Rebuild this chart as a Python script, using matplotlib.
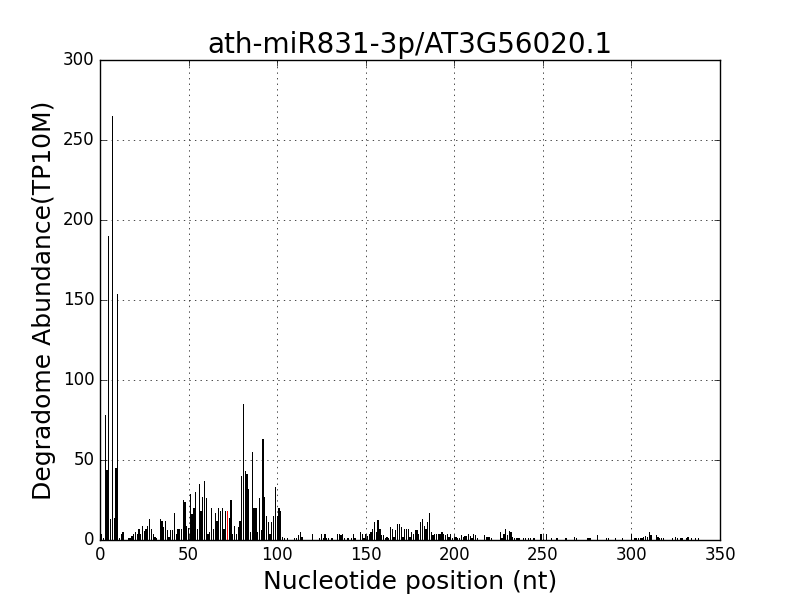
import numpy as np
import matplotlib
matplotlib.use('Agg')
import matplotlib.pyplot as plt

# degradome reads per position (TP10M)
positions = [1, 2, 3, 4, 5, 6, 7, 8, 9, 10, 11, 12, 13, 16, 17, 18, 19, 20,
             21, 22, 23, 24, 25, 26, 27, 28, 29, 30, 31, 32, 34, 35, 36, 37, 38, 39, 40,
             41, 42, 43, 44, 45, 46, 47, 48, 49, 50, 51, 52, 53, 54, 55, 56, 57, 58, 59, 60,
             61, 62, 63, 64, 65, 66, 67, 68, 69, 70, 71, 72, 73, 74, 75, 76, 77, 78, 79, 80,
             81, 82, 83, 84, 85, 86, 87, 88, 89, 90, 91, 92, 93, 94, 95, 96, 97, 98, 99, 100,
             101, 102, 103, 104, 106, 110, 111, 112, 113, 114, 120, 124, 125, 126, 127, 128,
             129, 131, 134, 135, 136, 137, 138, 140, 142, 143, 144, 147, 148, 149, 150,
             151, 152, 153, 154, 155, 156, 157, 158, 159, 160, 161, 162, 163, 164, 165, 166,
             167, 168, 169, 170, 171, 172, 173, 174, 175, 176, 177, 178, 179, 180,
             181, 182, 183, 184, 185, 186, 187, 188, 189, 190, 191, 192, 193, 194, 195, 196,
             197, 198, 199, 200, 201, 202, 203, 204, 205, 206, 207, 208, 209, 210, 211, 212,
             213, 217, 218, 219, 220, 221, 226, 227, 228, 229, 230, 231, 232, 233, 234, 235,
             236, 237, 239, 240, 242, 243, 245, 249, 252, 255, 258, 263, 268, 269, 275, 276,
             277, 281, 286, 287, 291, 295, 300, 302, 303, 304, 305, 306, 307, 308, 309, 310,
             311, 314, 315, 316, 317, 318, 323, 325, 326, 328, 329, 331, 332, 334, 336, 338]
abundance = [3.5, 1.5, 78, 44, 190, 13, 265, 14, 45, 154, 1, 3.5, 5, 1, 1.5, 2.7, 3.5, 5,
             4, 7, 3.5, 9, 5.5, 7, 9, 13, 7, 4, 2, 1.5, 13, 12, 8, 12, 6, 2, 6,
             6, 17, 4, 7, 7, 7, 25, 24, 9, 7.5, 29, 16, 20, 30, 7, 35, 18, 27, 37, 26,
             3.5, 5, 20, 7, 17, 12, 20, 18, 20, 7, 18, 18, 14, 25, 4, 9, 4, 8, 12, 40,
             85, 43, 41, 32, 5, 55, 20, 20, 5, 26, 6, 63, 27, 15, 11, 3.5, 11, 15, 33, 15,
             20, 18, 2, 1, 1, 1.5, 1.5, 3, 5, 2, 4, 1.5, 3.5, 1, 4, 1.5,
             1, 1, 3.5, 3.5, 3, 4, 1.5, 1, 1.5, 4, 1.5, 5, 3.5, 1.5, 4,
             2.5, 4, 5, 7, 11, 5, 12.5, 7, 3, 3, 1.5, 2, 1.5, 8, 7, 2,
             6, 10, 10, 8, 2, 7, 7, 7, 2, 5, 3.5, 6, 6, 4,
             11.5, 13, 9, 7, 11.5, 17, 5, 3, 4, 3.5, 4, 3.5, 5, 4, 3, 4,
             2, 4, 1.5, 2, 2, 1.5, 1.5, 3, 2, 2.5, 2.5, 3.5, 2.5, 1.5, 3.5, 3,
             1.5, 3, 2, 1.7, 1.7, 1, 5, 1.5, 4, 7, 3, 5.5, 5, 2, 1.5, 1.5,
             1, 1, 1, 1, 1, 1, 1, 4, 3.5, 1, 1, 1, 1.7, 1, 1, 1,
             1, 3, 1, 1, 1, 1, 3.7, 1, 1, 1, 1, 1.5, 1.7, 2.5, 2, 5,
             3, 3, 2, 1.5, 1, 1, 1, 1.7, 1, 1, 1.5, 1.5, 1.7, 1, 1, 1]
target_site = 72

plt.style.use('classic')
fig = plt.figure(figsize=(8, 6), dpi=100, facecolor='white')
ax = fig.add_subplot(111)

colors = ['red' if p == target_site else 'black' for p in positions]
ax.bar(positions, abundance, width=0.7, color=colors, linewidth=0, align='center')

ax.set_xlim(0, 350)
ax.set_ylim(0, 300)
ax.set_xticks(np.arange(0, 351, 50))
ax.set_yticks(np.arange(0, 301, 50))
ax.grid(True, linestyle=':', color='black')
ax.set_title('ath-miR831-3p/AT3G56020.1', fontsize=20)
ax.set_xlabel('Nucleotide position (nt)', fontsize=18)
ax.set_ylabel('Degradome Abundance(TP10M)', fontsize=18)

fig.savefig('out.png', dpi=100, facecolor='white')
